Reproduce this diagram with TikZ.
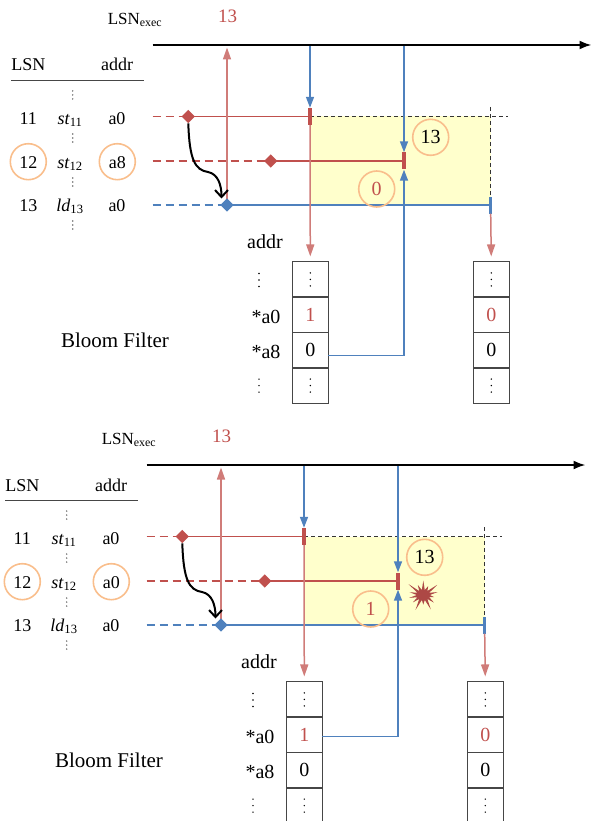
\documentclass[tikz,border=0pt]{standalone}
\usepackage{fontspec}
\setmainfont{Liberation Serif}
\usetikzlibrary{arrows.meta,shapes.geometric,shapes.symbols}
\definecolor{myred}{RGB}{192,80,77}
\definecolor{myblue}{RGB}{79,129,189}
\definecolor{myorange}{RGB}{249,190,140}
\definecolor{myyellow}{RGB}{255,255,204}
\definecolor{mygray}{RGB}{70,70,70}
\tikzset{
 txt/.style={inner sep=0pt, anchor=base, font=\fontsize{18}{20}\selectfont},
 bigtxt/.style={inner sep=0pt, font=\fontsize{20}{22}\selectfont},
 redln/.style={draw=myred, line width=1.8pt},
 reddash/.style={redln, dash pattern=on 8pt off 5pt},
 blueln/.style={draw=myblue, line width=1.8pt},
 bluedash/.style={blueln, dash pattern=on 8pt off 5pt},
 redv/.style={draw=myred!75, line width=1.5pt, -{Triangle[length=12pt,width=8pt]}},
 bluev/.style={draw=myblue, line width=1.5pt, -{Triangle[length=11pt,width=8pt]}},
 rdiam/.style={diamond, fill=myred, minimum size=13.5pt, inner sep=0pt},
 bdiam/.style={diamond, fill=myblue, minimum size=13.5pt, inner sep=0pt},
 rtick/.style={rectangle, fill=myred, minimum width=3.5pt, minimum height=17pt, inner sep=0pt},
 btick/.style={rectangle, fill=myblue, minimum width=3.5pt, minimum height=17pt, inner sep=0pt},
 ocirc/.style={circle, draw=myorange, line width=1.6pt, minimum size=36pt, inner sep=0pt},
 cell/.style={rectangle, draw=mygray, line width=1.5pt, minimum width=36pt, minimum height=35.4pt, inner sep=0pt, font=\fontsize{20}{22}\selectfont},
 bkdash/.style={draw=black!80, line width=0.9pt, dash pattern=on 4pt off 3pt},
 axisln/.style={draw=black, line width=2pt, -{Latex[length=12pt,width=9pt]}},
 curvearr/.style={draw=black, line width=2pt, -{Straight Barb[length=7pt,width=13pt]}},
 tdots/.style={fill=mygray!80},
 cdots/.style={fill=black},
 burst/.style={starburst, fill=myred!90!black, draw=none, starburst points=14, starburst point height=9pt, minimum width=27pt, minimum height=25pt, inner sep=0pt, transform shape, scale=1.45},
}
\newcommand\mydots[4]{\fill[#3] (#1,#2-#4) circle (0.8pt) (#1,#2) circle (0.8pt) (#1,#2+#4) circle (0.8pt);}
% #1 shift, #2 prefix, #3 row-12 address, #4 circled digit, #5 y of return line, #6 extra
\newcommand\drawpanel[6]{%
\begin{scope}[shift={(#1)}, name prefix=#2-]
 % top labels and axis
 \node[inner sep=0pt, font=\fontsize{17}{19}\selectfont] (lsnx) at (135,20) {LSN\textsubscript{exec}};
 \node[inner sep=0pt, font=\fontsize{19}{21}\selectfont, text=myred] (n13) at (227.7,16.7) {13};
 \coordinate (ax0) at (152.7,45); \coordinate (ax1) at (591.5,45);
 \draw[axisln] (ax0) -- (ax1);
 % table
 \node[txt] (hl) at (28.3,71) {LSN};
 \node[txt] (ha) at (117,71) {addr};
 \coordinate (r0) at (11,80.7); \coordinate (r1) at (144,80.7);
 \draw[draw=mygray, line width=1.5pt] (r0) -- (r1);
 \node[txt] (l11) at (28.3,124.3) {11};
 \node[txt] (i11) at (70,124.3) {\textit{st}\textsubscript{11}};
 \node[txt] (a11) at (117,124.3) {a0};
 \node[txt] (l12) at (28.3,168) {12};
 \node[txt] (i12) at (70,168) {\textit{st}\textsubscript{12}};
 \node[txt] (a12) at (117.3,168) {#3};
 \node[txt] (l13) at (28.3,211.3) {13};
 \node[txt] (i13) at (70,211.3) {\textit{ld}\textsubscript{13}};
 \node[txt] (a13) at (117,211.3) {a0};
 \node[ocirc] (c12l) at (28.3,161.7) {};
 \node[ocirc] (c12a) at (117.3,161.7) {};
 \mydots{72.7}{95}{tdots}{4}
 \mydots{72.7}{138}{tdots}{4}
 \mydots{72.7}{182}{tdots}{4}
 \mydots{72.7}{225}{tdots}{4}
 % window
 \coordinate (s11) at (152.7,116.5); \coordinate (p11) at (188.3,116.5); \coordinate (e11) at (310,116.5);
 \coordinate (s12) at (152.7,161); \coordinate (p12) at (270.7,161); \coordinate (e12) at (404,161);
 \coordinate (s13) at (152.7,205); \coordinate (p13) at (227,205); \coordinate (e13) at (490.7,205);
 \fill[myyellow] (e11) rectangle (e13);
 \coordinate (dk1) at (508,116.5); \coordinate (dv0) at (490.7,107);
 \draw[bkdash] (e11) -- (dk1);
 \draw[bkdash] (dv0) -- (e13);
 \draw[reddash] (s11) -- (p11); \draw[redln] (p11) -- (e11);
 \draw[reddash] (s12) -- (p12); \draw[redln] (p12) -- (e12);
 \draw[bluedash] (s13) -- (p13); \draw[blueln] (p13) -- (e13);
 \coordinate (u13) at (227,47.5);
 \draw[redv] (p13) -- (u13);
 \node[rtick] (t11) at (e11) {};
 \node[rtick] (t12) at (e12) {};
 \node[btick] (t13) at (e13) {};
 \node[rdiam] (d11) at (p11) {};
 \node[rdiam] (d12) at (p12) {};
 \node[bdiam] (d13) at (p13) {};
 \coordinate (cmid) at (208,172); \coordinate (ctip) at (221.5,198.5);
 \draw[curvearr] (d11.south) .. controls (189.5,160) and (195,170) .. (cmid) .. controls (218,174) and (221.5,185) .. (ctip);
 % circled numbers
 \node[ocirc, bigtxt] (k13) at (430.7,137.3) {13};
 \node[ocirc, bigtxt, text=myred] (kd) at (376.7,189) {#4};
 % bloom filter
 \node[inner sep=0pt, font=\fontsize{21}{23}\selectfont] (bf) at (115,340) {Bloom Filter};
 \node[bigtxt] (baddr) at (265,241.7) {addr};
 \node[bigtxt] (ba0) at (266,316.7) {*a0};
 \node[bigtxt] (ba8) at (266,351.7) {*a8};
 \mydots{259}{280}{cdots}{6.5}
 \mydots{259}{385.6}{cdots}{6.5}
 \node[cell] (c1r1) at (310.3,279.4) {};
 \node[cell, text=myred] (c1r2) at (310.3,314.8) {1};
 \node[cell] (c1r3) at (310.3,350.2) {0};
 \node[cell] (c1r4) at (310.3,385.6) {};
 \node[cell] (c2r1) at (491.3,279.4) {};
 \node[cell, text=myred] (c2r2) at (491.3,314.8) {0};
 \node[cell] (c2r3) at (491.3,350.2) {0};
 \node[cell] (c2r4) at (491.3,385.6) {};
 \mydots{310.3}{279.4}{cdots}{6.5}
 \mydots{310.3}{385.6}{cdots}{6.5}
 \mydots{491.3}{279.4}{cdots}{6.5}
 \mydots{491.3}{385.6}{cdots}{6.5}
 % vertical connectors
 \coordinate (b1) at (310,46);
 \draw[bluev] (b1) -- (t11.north);
 \draw[redv, shorten >=4.5pt] (t11.south) -- (c1r1.north);
 \coordinate (b2) at (404,46);
 \draw[bluev] (b2) -- (t12.north);
 \draw[redv, shorten >=4.5pt] (t13.south) -- (c2r1.north);
 \coordinate (ret0) at (328.3,#5); \coordinate (ret1) at (404,#5);
 \draw[bluev] (ret0) -- (ret1) -- (t12.south);
 #6
\end{scope}}
\begin{document}
\begin{tikzpicture}[x=1pt,y=-1pt]
\useasboundingbox (0,0) rectangle (592,821);
\clip (0,0) rectangle (592,821);
\drawpanel{0,0}{top}{a8}{0}{355.7}{}
\drawpanel{-6,420}{bot}{a0}{1}{316.7}{\node[burst] (burst) at (429.3,175) {};}
\end{tikzpicture}
\end{document}
